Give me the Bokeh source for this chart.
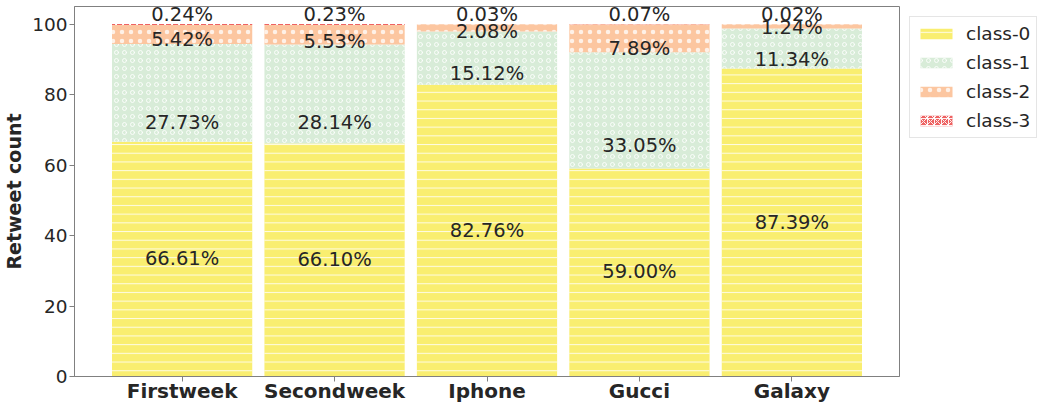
import numpy as np
from bokeh.plotting import figure
from bokeh.models import Range1d, FixedTicker, Legend, LegendItem, ColumnDataSource, LabelSet
from bokeh.embed import file_html
from bokeh.resources import INLINE
from bokeh.core.properties import value

# ---- data ----
categories = ["Firstweek", "Secondweek", "Iphone", "Gucci", "Galaxy"]
class_names = ["class-0", "class-1", "class-2", "class-3"]
class0 = [66.61, 66.10, 82.76, 59.00, 87.39]
class1 = [27.73, 28.14, 15.12, 33.05, 11.34]
class2 = [5.42, 5.53, 2.08, 7.89, 1.24]
class3 = [0.24, 0.23, 0.03, 0.07, 0.02]
# heights (in data units) where the percentage labels sit in the picture
label_h0 = [33.4, 33.1, 41.5, 29.7, 43.8]
label_h1 = [72.2, 72.2, 86.1, 65.6, 90.1]
label_h2 = [95.5, 95.2, 98.0, 93.2, 99.1]
label_h3 = [102.6, 102.6, 102.6, 102.6, 102.6]
y_ticks = [0, 20, 40, 60, 80, 100]

series = [class0, class1, class2, class3]
label_heights = [label_h0, label_h1, label_h2, label_h3]

# ---- styling ----
FONT = "DejaVu Sans"
TXT = "#262626"
FRAME = "#808080"
colors = ["#F9EE70", "#D8ECD8", "#FCC6A0", "#EE6262"]
hatches = ["horizontal_line", "ring", "dot", "criss_cross"]
hatch_scales = [8.7, 8.0, 9.0, 7.0]
hatch_alphas = [0.8, 0.85, 0.75, 0.9]

xs = list(range(len(categories)))

p = figure(frame_width=825, frame_height=370,
           x_range=Range1d(-0.706, 4.706), y_range=Range1d(0, 105),
           output_backend="svg", toolbar_location=None,
           min_border_left=67, min_border_right=0,
           min_border_top=6, min_border_bottom=0)

p.background_fill_color = "white"
p.border_fill_color = "white"
p.outline_line_color = FRAME
p.outline_line_width = 1
p.xgrid.visible = False
p.ygrid.visible = False

bottom = np.zeros(len(categories))
renderers = []
for vals, col, hp, hs, ha in zip(series, colors, hatches, hatch_scales, hatch_alphas):
    vals = np.array(vals, dtype=float)
    top = bottom + vals
    r = p.vbar(x=xs, bottom=bottom.tolist(), top=top.tolist(), width=0.92,
               fill_color=col, line_color=None,
               hatch_pattern=hp, hatch_color="white", hatch_scale=hs,
               hatch_weight=1.0, hatch_alpha=ha)
    renderers.append(r)
    bottom = top

for vals, lh in zip(series, label_heights):
    src = ColumnDataSource(dict(x=xs, y=lh, t=[f"{v:.2f}%" for v in vals]))
    p.add_layout(LabelSet(x="x", y="y", text="t", source=src,
                          text_align="center", text_baseline="middle",
                          text_font=value(FONT), text_font_size=value("19.5px"),
                          text_color=TXT))

# axes
p.xaxis.ticker = FixedTicker(ticks=xs)
p.xaxis.major_label_overrides = {i: c for i, c in enumerate(categories)}
p.yaxis.ticker = FixedTicker(ticks=y_ticks)
for ax in (p.xaxis, p.yaxis):
    ax.axis_line_color = FRAME
    ax.major_tick_line_color = FRAME
    ax.minor_tick_line_color = None
    ax.major_tick_in = 0
    ax.major_tick_out = 5
    ax.major_label_text_font = FONT
    ax.major_label_text_color = TXT
p.xaxis.major_label_text_font_size = "20px"
p.xaxis.major_label_text_font_style = "bold"
p.xaxis.major_label_standoff = -3
p.yaxis.major_label_text_font_size = "18.5px"
p.yaxis.major_label_standoff = 2
p.yaxis.axis_label = "Retweet count"
p.yaxis.axis_label_text_font = FONT
p.yaxis.axis_label_text_font_size = "19px"
p.yaxis.axis_label_text_font_style = "bold"
p.yaxis.axis_label_text_color = TXT
p.yaxis.axis_label_standoff = 4

legend = Legend(items=[LegendItem(label=n, renderers=[r]) for n, r in zip(class_names, renderers)],
                location="top_left")
legend.label_text_font = FONT
legend.label_text_font_size = "18.5px"
legend.label_text_color = TXT
legend.glyph_width = 40
legend.glyph_height = 13
legend.label_standoff = 10
legend.label_height = 20
legend.padding = 6
legend.spacing = 8
legend.margin = 10
legend.border_line_color = "#cccccc"
legend.border_line_width = 1
legend.background_fill_color = "white"
legend.background_fill_alpha = 1
p.add_layout(legend, "right")

open("out.html", "w").write(file_html(p, INLINE))
